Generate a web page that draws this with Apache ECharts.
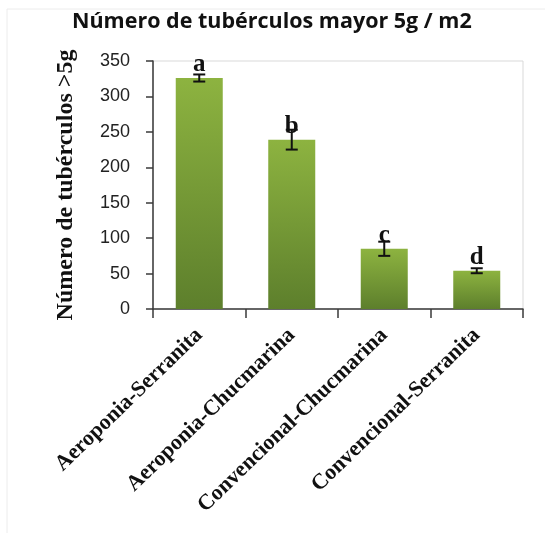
<!DOCTYPE html>
<html>
<head>
<meta charset="utf-8">
<script src="https://cdn.jsdelivr.net/npm/echarts@6/dist/echarts.min.js"></script>
<style>
  html, body { margin: 0; padding: 0; background: #fff; }
  #chart { width: 545px; height: 533px; }
</style>
</head>
<body>
<div id="chart"></div>
<script>
// Tratamientos (sistema de cultivo - variedad)
const categories = ['Aeroponia-Serranita', 'Aeroponia-Chucmarina', 'Convencional-Chucmarina', 'Convencional-Serranita'];
// Número medio de tubérculos > 5 g por m2
const values = [326, 239, 85, 54];
// Error estándar de cada media
const errors = [5, 14, 10, 3.5];
// Letras de significancia (prueba de comparación de medias)
const letters = ['a', 'b', 'c', 'd'];
// Marcas del eje Y
const yTicks = [0, 50, 100, 150, 200, 250, 300, 350];

const chart = echarts.init(document.getElementById('chart'));

const axisColor = '#3a3a3a';

chart.setOption({
  backgroundColor: '#ffffff',
  animation: false,
  title: {
    text: 'Número de tubérculos mayor 5g / m2',
    left: 67,
    top: 6,
    textStyle: { fontFamily: 'Open Sans', fontWeight: 'bold', fontSize: 21.5, color: '#111' }
  },
  graphic: [
    { type: 'line', shape: { x1: 7, y1: 9, x2: 545, y2: 9 }, style: { stroke: '#ececec', lineWidth: 1 } },
    { type: 'line', shape: { x1: 7, y1: 9, x2: 7, y2: 533 }, style: { stroke: '#ececec', lineWidth: 1 } }
  ],
  grid: {
    left: 153, right: 22, top: 61, bottom: 224,
    show: true, borderColor: '#d9d9d9', borderWidth: 1
  },
  xAxis: {
    type: 'category',
    data: categories,
    axisLine: { lineStyle: { color: axisColor, width: 1.5 } },
    axisTick: { show: true, length: 9, lineStyle: { color: axisColor, width: 1.5 } },
    axisLabel: {
      rotate: 44,
      margin: 23,
      fontFamily: 'Liberation Serif',
      fontWeight: 'bold',
      fontSize: 22,
      color: '#111'
    }
  },
  yAxis: {
    type: 'value',
    min: yTicks[0],
    max: yTicks[yTicks.length - 1],
    interval: 50,
    name: 'Número de tubérculos >5g',
    nameLocation: 'middle',
    nameRotate: 90,
    nameGap: 75,
    nameTextStyle: { fontFamily: 'Liberation Serif', fontWeight: 'bold', fontSize: 24, color: '#111' },
    axisLine: { show: true, lineStyle: { color: axisColor, width: 1.5 } },
    axisTick: { show: true, length: 7, lineStyle: { color: axisColor, width: 1.5 } },
    splitLine: { show: false },
    axisLabel: {
      margin: 23,
      fontFamily: 'Liberation Sans',
      fontSize: 18,
      color: '#222'
    }
  },
  series: [
    {
      type: 'bar',
      data: values,
      barWidth: 47,
      itemStyle: {
        color: new echarts.graphic.LinearGradient(0, 0, 0, 1, [
          { offset: 0, color: '#8db340' },
          { offset: 1, color: '#5d7f2c' }
        ])
      },
      label: {
        show: true,
        position: 'top',
        distance: 1,
        formatter: p => letters[p.dataIndex],
        fontFamily: 'Liberation Serif',
        fontWeight: 'bold',
        fontSize: 25,
        color: '#111'
      },
      z: 2
    },
    {
      type: 'custom',
      z: 3,
      data: values.map((v, i) => [i, v, errors[i]]),
      renderItem: (params, api) => {
        const x = api.value(0);
        const v = api.value(1);
        const e = api.value(2);
        const hi = api.coord([x, v + e]);
        const lo = api.coord([x, v - e]);
        const cap = 6;
        const style = { stroke: '#111', lineWidth: 2 };
        return {
          type: 'group',
          children: [
            { type: 'line', shape: { x1: hi[0], y1: hi[1], x2: lo[0], y2: lo[1] }, style },
            { type: 'line', shape: { x1: hi[0] - cap, y1: hi[1], x2: hi[0] + cap, y2: hi[1] }, style },
            { type: 'line', shape: { x1: lo[0] - cap, y1: lo[1], x2: lo[0] + cap, y2: lo[1] }, style }
          ]
        };
      }
    }
  ]
});
</script>
</body>
</html>
